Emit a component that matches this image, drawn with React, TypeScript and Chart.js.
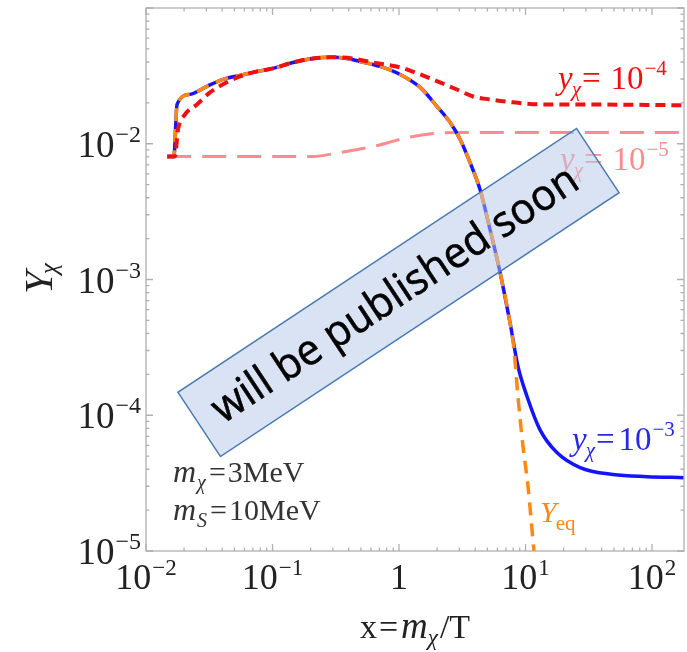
import React, { useEffect, useRef } from 'react';
import { Chart, registerables } from 'chart.js';
Chart.register(...registerables);

const SERIF = '"Liberation Serif","Times New Roman",serif';
const SANS = '"Open Sans","Noto Sans",sans-serif';

// ---- data ----
const blueX = [0.0147, 0.0166, 0.0176, 0.0223, 0.0304, 0.0406, 0.0553, 0.0754, 0.101, 0.145, 0.209, 0.285, 0.388, 0.492, 0.708, 1.02, 1.47, 2.0, 2.53, 3.04, 3.64, 4.37, 5.24, 6.29, 7.54, 8.72, 10.3, 13.0, 17.7, 27.0, 49.2, 91.3, 179];
const blueY = [0.00806, 0.00806, 0.0195, 0.0231, 0.0265, 0.0298, 0.0319, 0.0341, 0.0359, 0.0397, 0.0425, 0.0433, 0.0425, 0.0404, 0.0371, 0.0324, 0.026, 0.0188, 0.0144, 0.0108, 0.00728, 0.0046, 0.00234, 0.00113, 0.000482, 0.000229, 0.000137, 0.0000784, 0.0000531, 0.0000412, 0.0000366, 0.0000353, 0.0000347];

const eqX = [0.0147, 0.0166, 0.0176, 0.0223, 0.0304, 0.0406, 0.0553, 0.0754, 0.101, 0.145, 0.209, 0.285, 0.388, 0.492, 0.708, 1.02, 1.47, 2.0, 2.53, 3.04, 3.64, 4.37, 5.24, 6.29, 7.54, 8.11, 8.72, 9.56, 10.47, 11.67, 12.1];
const eqY = [0.00806, 0.00806, 0.0195, 0.0231, 0.0265, 0.0298, 0.0319, 0.0341, 0.0359, 0.0397, 0.0425, 0.0433, 0.0425, 0.0404, 0.0371, 0.0324, 0.026, 0.0188, 0.0144, 0.0108, 0.00728, 0.0046, 0.00234, 0.00113, 0.000482, 0.000305, 0.000137, 0.0000588, 0.0000298, 0.00001, 0.0000073];

const redX = [0.0147, 0.0169, 0.0179, 0.0203, 0.0253, 0.0321, 0.0406, 0.0553, 0.0754, 0.101, 0.145, 0.209, 0.285, 0.342, 0.623, 1.02, 1.47, 2.11, 2.87, 3.85, 5.24, 7.96, 13.0, 22.5, 179];
const redY = [0.00806, 0.00806, 0.0127, 0.0164, 0.0195, 0.0239, 0.0274, 0.0313, 0.0341, 0.0359, 0.0397, 0.0425, 0.0433, 0.0433, 0.0397, 0.0365, 0.0324, 0.0283, 0.0251, 0.0223, 0.0212, 0.0202, 0.0195, 0.0195, 0.0192];

const pinkX = [0.0147, 0.209, 0.342, 0.623, 1.16, 1.86, 2.87, 179];
const pinkY = [0.00806, 0.00806, 0.00863, 0.00955, 0.0111, 0.0119, 0.0121, 0.0121];

const xTickValues = [0.01, 0.1, 1, 10, 100];
const xTickLabels = ['10^−2', '10^−1', '1', '10^1', '10^2'];
const yTickValues = [1e-5, 1e-4, 1e-3, 1e-2];
const yTickLabels = ['10^−5', '10^−4', '10^−3', '10^−2'];
const xMin = 0.01, xMax = 179, yMin = 1e-5, yMax = 0.1;

const boxText = 'will be published soon';

// ---- styles ----
const BLUE = 'rgb(20,20,255)';
const ORANGE = 'rgb(255,136,20)';
const RED = 'rgb(240,16,16)';
const PINK = 'rgb(255,140,140)';
const FRAME = '#b0b0b0';
const INK = '#222';

type Run = { t: string; f: string; dy?: number; dx?: number };

function drawRuns(ctx: CanvasRenderingContext2D, runs: Run[], x: number, y: number, color: string, align: 'left' | 'center' | 'right' = 'left') {
  ctx.save();
  ctx.fillStyle = color;
  ctx.textBaseline = 'alphabetic';
  ctx.textAlign = 'left';
  let total = 0;
  for (const r of runs) { ctx.font = r.f; total += ctx.measureText(r.t).width + (r.dx || 0); }
  let cx = align === 'left' ? x : align === 'center' ? x - total / 2 : x - total;
  for (const r of runs) {
    ctx.font = r.f;
    cx += r.dx || 0;
    ctx.fillText(r.t, cx, y + (r.dy || 0));
    cx += ctx.measureText(r.t).width;
  }
  ctx.restore();
}

function tickRuns(label: string, main: number, exp: number, raise: number): Run[] {
  const [b, e] = label.split('^');
  const runs: Run[] = [{ t: b, f: `${main}px ${SERIF}` }];
  if (e) runs.push({ t: e, f: `${exp}px ${SERIF}`, dy: -raise, dx: 1 });
  return runs;
}

function yLabel(value: string, size: number, sub: number, gap: number): Run[] {
  const [b, e] = value.split('^');
  return [
    { t: 'y', f: `italic ${size}px ${SERIF}` },
    { t: 'χ', f: `italic ${sub}px ${SERIF}`, dy: 7, dx: -1 },
    { t: '=', f: `${size}px ${SERIF}`, dx: 1 },
    { t: b, f: `${size}px ${SERIF}`, dx: gap },
    { t: e, f: `${sub}px ${SERIF}`, dy: -14, dx: 1 },
  ];
}

function massLabel(sub: string, value: string): Run[] {
  return [
    { t: 'm', f: `italic 32px ${SERIF}` },
    { t: sub, f: `italic 20px ${SERIF}`, dy: 7, dx: 1 },
    { t: '=', f: `30px ${SERIF}`, dx: 3 },
    { t: value, f: `30px ${SERIF}`, dx: 2 },
  ];
}

const decor = {
  id: 'decor',
  afterDatasetsDraw(chart: any) {
    const { ctx, chartArea: a, scales } = chart;
    const xs = scales.x, ys = scales.y;
    ctx.save();
    ctx.strokeStyle = FRAME;
    ctx.lineWidth = 1.3;
    ctx.strokeRect(a.left, a.top, a.right - a.left, a.bottom - a.top);
    ctx.beginPath();
    for (let d = -2; d <= 2; d++) {
      for (let m = 1; m <= 9; m++) {
        const v = m * Math.pow(10, d);
        if (v < xMin || v > xMax) continue;
        const p = xs.getPixelForValue(v);
        const len = m === 1 ? 7 : 3.5;
        ctx.moveTo(p, a.bottom); ctx.lineTo(p, a.bottom - len);
        ctx.moveTo(p, a.top); ctx.lineTo(p, a.top + len);
      }
    }
    for (let d = -5; d <= -1; d++) {
      for (let m = 1; m <= 9; m++) {
        const v = m * Math.pow(10, d);
        if (v < yMin || v > yMax) continue;
        const p = ys.getPixelForValue(v);
        const len = m === 1 ? 7 : 3.5;
        ctx.moveTo(a.left, p); ctx.lineTo(a.left + len, p);
        ctx.moveTo(a.right, p); ctx.lineTo(a.right - len, p);
      }
    }
    ctx.stroke();
    ctx.restore();

    // tick labels
    xTickValues.forEach((v, i) => {
      drawRuns(ctx, tickRuns(xTickLabels[i], 36, 23, 14), xs.getPixelForValue(v), 589, INK, 'center');
    });
    yTickValues.forEach((v, i) => {
      drawRuns(ctx, tickRuns(yTickLabels[i], 37, 24, 15), 141, ys.getPixelForValue(v) + 13, INK, 'right');
    });

    // axis titles
    drawRuns(ctx, [
      { t: 'x', f: `34px ${SERIF}` },
      { t: '=', f: `34px ${SERIF}`, dx: 2 },
      { t: 'm', f: `italic 37px ${SERIF}`, dx: 3 },
      { t: 'χ', f: `italic 23px ${SERIF}`, dy: 7 },
      { t: '/T', f: `34px ${SERIF}`, dx: 2 },
    ], (a.left + a.right) / 2, 638, INK, 'center');
    ctx.save();
    ctx.translate(52, 294);
    ctx.rotate(-Math.PI / 2);
    drawRuns(ctx, [
      { t: 'Y', f: `italic 41px ${SERIF}` },
      { t: 'χ', f: `italic 25px ${SERIF}`, dy: 5, dx: -3 },
    ], 0, 0, INK, 'left');
    ctx.restore();

    // curve labels
    drawRuns(ctx, yLabel('10^−4', 33, 21, 10), 558, 89, RED);
    drawRuns(ctx, yLabel('10^−5', 33, 21, 10), 560, 170, PINK);
    drawRuns(ctx, yLabel('10^−3', 33, 21, 4), 572, 450, 'rgb(40,40,235)');
    drawRuns(ctx, [
      { t: 'Y', f: `italic 30px ${SERIF}` },
      { t: 'eq', f: `21px ${SERIF}`, dy: 8, dx: -1 },
    ], 540, 522, ORANGE);
    drawRuns(ctx, massLabel('χ', '3MeV'), 173, 482, '#333');
    drawRuns(ctx, massLabel('S', '10MeV'), 173, 520, '#333');
  },
  afterDraw(chart: any) {
    const { ctx } = chart;
    // overlay box "will be published soon"
    const cx = 398.5, cy = 292.5, w = 478, h = 77;
    const ang = -33.5 * Math.PI / 180;
    ctx.save();
    ctx.translate(cx, cy);
    ctx.rotate(ang);
    ctx.fillStyle = 'rgba(181,199,231,0.5)';
    ctx.fillRect(-w / 2, -h / 2, w, h);
    ctx.strokeStyle = '#4a7ab2';
    ctx.lineWidth = 1.5;
    ctx.strokeRect(-w / 2, -h / 2, w, h);
    const size = 43;
    ctx.font = `${size}px ${SANS}`;
    const mw = ctx.measureText(boxText).width;
    const sx = 430 / mw;
    ctx.fillStyle = '#000';
    ctx.strokeStyle = '#000';
    ctx.lineWidth = 0.6;
    ctx.textAlign = 'center';
    ctx.textBaseline = 'alphabetic';
    ctx.translate(-4, 13);
    ctx.scale(sx, 1);
    ctx.fillText(boxText, 0, 0);
    ctx.strokeText(boxText, 0, 0);
    ctx.restore();
  },
};

const pts = (xs: number[], ys: number[]) => xs.map((x, i) => ({ x, y: ys[i] }));

export default function App() {
  const ref = useRef<HTMLCanvasElement>(null);
  useEffect(() => {
    if (!ref.current) return;
    const common = { pointRadius: 0, fill: false, cubicInterpolationMode: 'monotone' as const, clip: 0 };
    const chart = new Chart(ref.current, {
      type: 'line',
      data: {
        datasets: [
          { ...common, data: pts(redX, redY), borderColor: RED, borderWidth: 4, borderDash: [10, 6], order: 1 },
          { ...common, data: pts(eqX, eqY), borderColor: ORANGE, borderWidth: 3.5, borderDash: [13, 8], order: 2 },
          { ...common, data: pts(blueX, blueY), borderColor: BLUE, borderWidth: 3.5, order: 3 },
          { ...common, data: pts(pinkX, pinkY), borderColor: PINK, borderWidth: 3, borderDash: [24, 11], order: 4 },
        ],
      },
      options: {
        responsive: false,
        animation: false,
        devicePixelRatio: 1,
        layout: { padding: { top: 8, right: 3, left: 0, bottom: 0 } },
        plugins: { legend: { display: false }, tooltip: { enabled: false } },
        scales: {
          x: {
            type: 'logarithmic', min: xMin, max: xMax,
            ticks: { display: false }, grid: { display: false }, border: { display: false },
            afterFit: (s: any) => { s.height = 101; },
          },
          y: {
            type: 'logarithmic', min: yMin, max: yMax,
            ticks: { display: false }, grid: { display: false }, border: { display: false },
            afterFit: (s: any) => { s.width = 146; },
          },
        },
      } as any,
      plugins: [decor],
    });
    return () => chart.destroy();
  }, []);
  return (
    <div style={{ position: 'absolute', left: 0, top: 0, width: 687, height: 652, background: '#fff' }}>
      <canvas ref={ref} width={687} height={652} style={{ display: 'block' }} />
    </div>
  );
}
